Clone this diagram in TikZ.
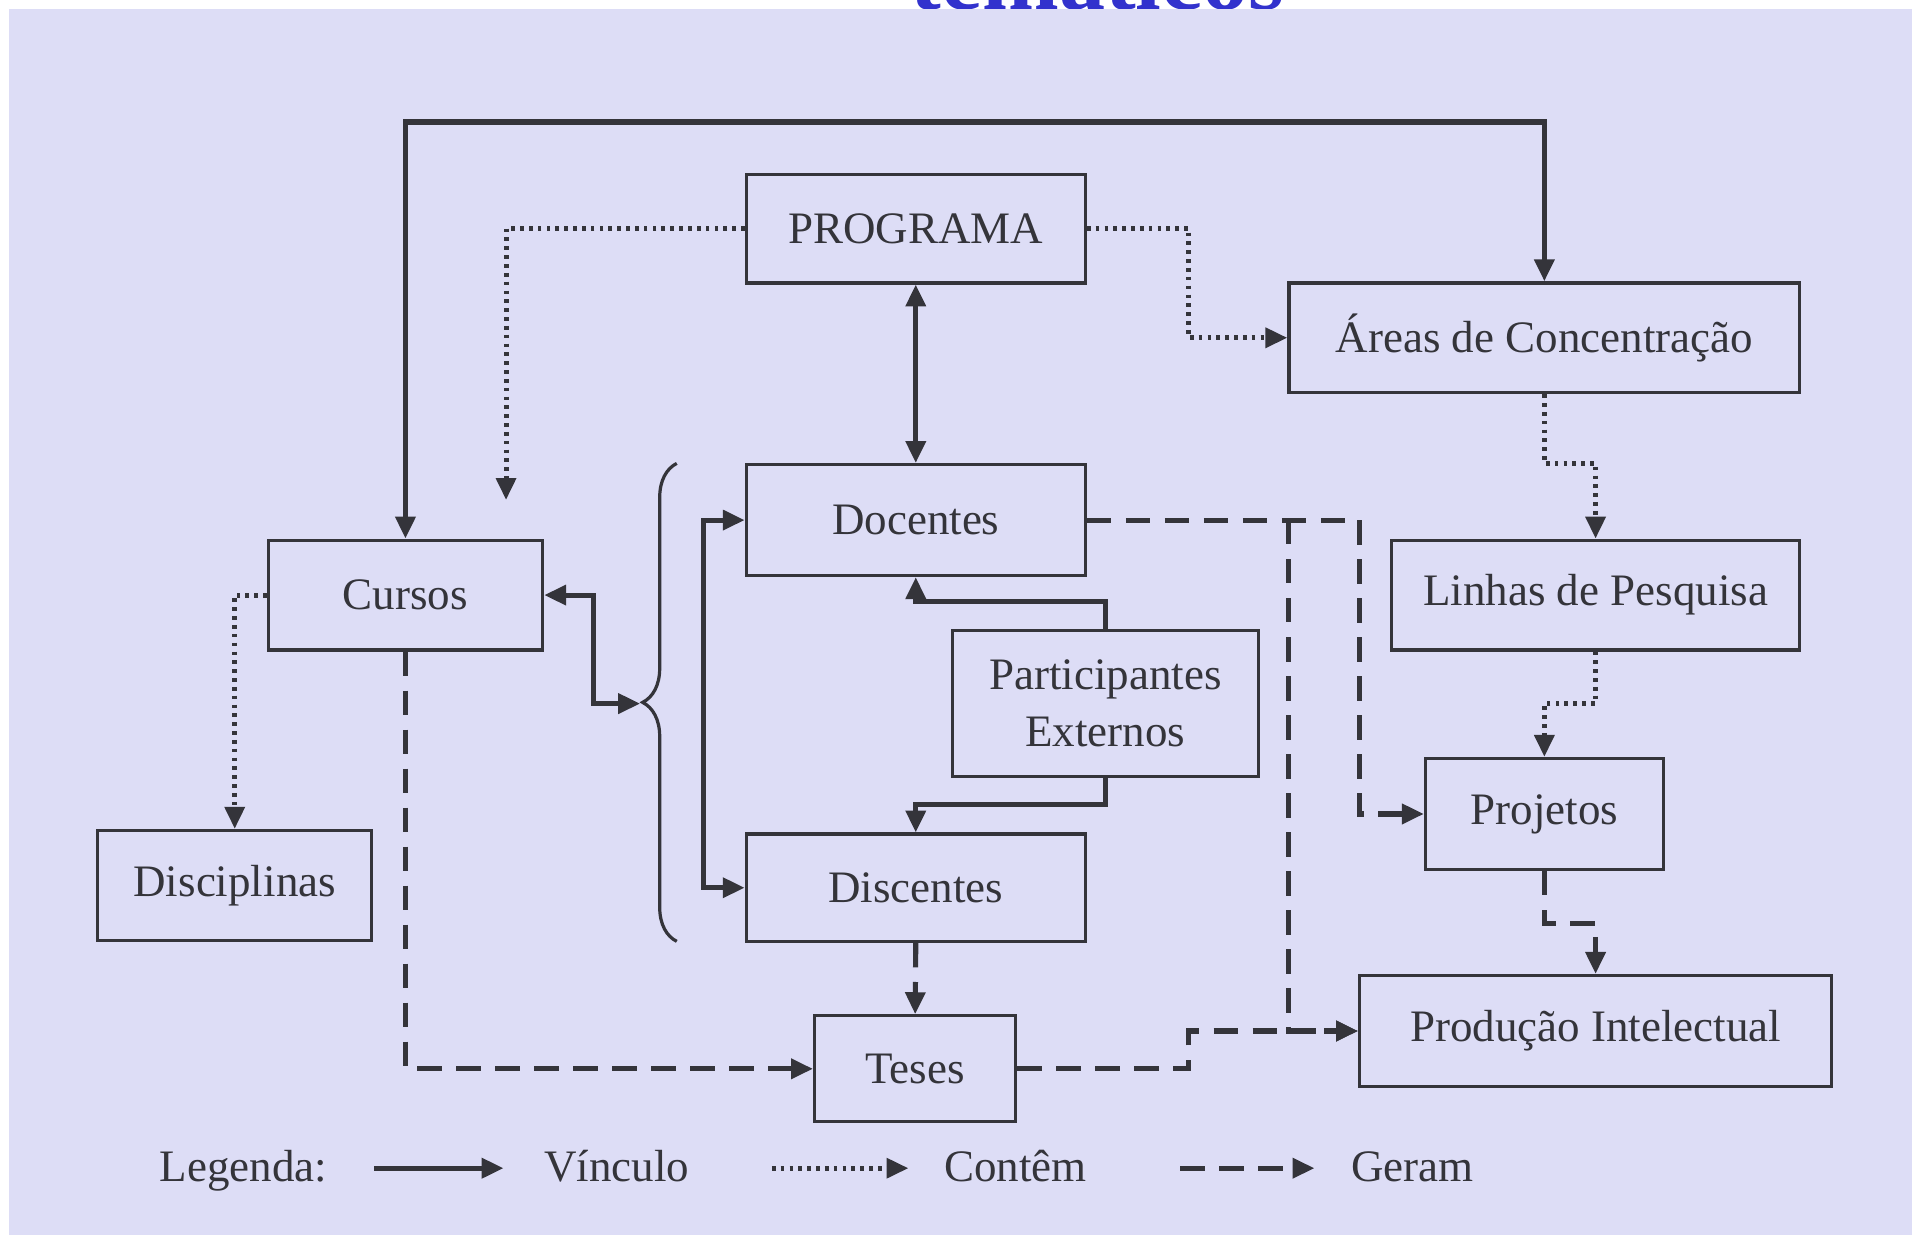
\documentclass[tikz,border=0pt]{standalone}
\usepackage{fontspec}
\setmainfont{Liberation Serif}
\usepackage{tikz}
\usetikzlibrary{arrows.meta,decorations.pathreplacing}

\definecolor{fundo}{RGB}{221,221,246}
\definecolor{traco}{RGB}{52,52,58}
\definecolor{titulo}{RGB}{50,50,205}

\begin{document}
\begin{tikzpicture}[x=0.02cm,y=-0.02cm,>={Triangle[length=0.36cm,width=0.32cm]},
    every node/.style={text=traco,font=\fontsize{21}{26.5}\selectfont},
    caixa/.style={draw=traco,line width=1.5pt,inner sep=0pt,align=center},
    vinculo/.style={draw=traco,line width=2.4pt},
    contem/.style={draw=traco,line width=2.3pt,dash pattern=on 0.06cm off 0.085cm},
    geram/.style={draw=traco,line width=2.4pt,dash pattern=on 0.4cm off 0.24cm}]

    % fundo e titulo cortado
    \useasboundingbox (0,0) rectangle (1568,1012);
    \clip (0,0) rectangle (1568,1012);
    \fill[white] (-10,-10) rectangle (1590,1030);
    \node[anchor=base,text=titulo,font=\fontsize{43}{50}\selectfont\bfseries] (titulo) at (900,7.5) {temáticos};
    \fill[fundo] (7.5,7.5) rectangle (1590,1030);

    % caixas
    \node[caixa,minimum width=5.56cm,minimum height=1.78cm] (programa) at (751,187.5) {PROGRAMA};
    \node[caixa,minimum width=8.38cm,minimum height=1.8cm] (areas) at (1266.5,277) {Áreas de Concentração};
    \node[caixa,minimum width=5.56cm,minimum height=1.82cm] (docentes) at (751,426.5) {Docentes};
    \node[caixa,minimum width=4.5cm,minimum height=1.8cm] (cursos) at (332.5,488) {Cursos};
    \node[caixa,minimum width=6.7cm,minimum height=1.8cm] (linhas) at (1308.5,488) {Linhas de Pesquisa};
    \node[caixa,minimum width=5.02cm,minimum height=2.4cm] (externos) at (906.5,577) {Participantes\\Externos};
    \node[caixa,minimum width=3.9cm,minimum height=1.82cm] (projetos) at (1266.5,667.5) {Projetos};
    \node[caixa,minimum width=4.5cm,minimum height=1.8cm] (disciplinas) at (192.5,726) {Disciplinas};
    \node[caixa,minimum width=5.56cm,minimum height=1.76cm] (discentes) at (751,728) {Discentes};
    \node[caixa,minimum width=3.3cm,minimum height=1.74cm] (teses) at (750.5,876.5) {Teses};
    \node[caixa,minimum width=7.74cm,minimum height=1.82cm] (producao) at (1308.5,845.5) {Produção Intelectual};

    % pontos de passagem
    \coordinate (topo) at (800,100);
    \coordinate (cursosPont) at (415,410);
    \coordinate (progAreas) at (975,232);
    \coordinate (areasLinhas) at (1287,380);
    \coordinate (linhasProj) at (1287,577);
    \coordinate (projProd) at (1287,757);
    \coordinate (cursosJunta) at (487,530);
    \coordinate (chave) at (525,577);
    \coordinate (docDisc) at (577,577);
    \coordinate (extDoc) at (830,493);
    \coordinate (extDisc) at (830,660);
    \coordinate (docProj) at (1115,550);
    \coordinate (docProd) at (1057,426.5);
    \coordinate (tesesProd) at (975,860);

    % vinculos
    \draw[vinculo,<->] (cursos.north) |- (topo) -| (areas.north);
    \draw[vinculo,<->] (programa.south) -- (docentes.north);
    \draw[vinculo,<->] (cursos.east) -| (cursosJunta) |- (chave);
    \draw[vinculo,<->] (docentes.west) -| (docDisc) |- (discentes.west);
    \draw[vinculo,->] (externos.north) |- (extDoc) -| (docentes.south);
    \draw[vinculo,->] (externos.south) |- (extDisc) -| (discentes.north);
    \draw[draw=traco,line width=1.5pt,decorate,decoration={brace,amplitude=0.56cm}] (555,772) -- (555,380);

    % contem
    \draw[contem,->] (programa.west) -| (cursosPont);
    \draw[contem,->] (programa.east) -| (progAreas) |- (areas.west);
    \draw[contem,->] (areas.south) |- (areasLinhas) -| (linhas.north);
    \draw[contem,->] (linhas.south) |- (linhasProj) -| (projetos.north);
    \draw[contem,->] (cursos.west) -| (disciplinas.north);

    % geram
    \draw[geram,->] (cursos.south) |- (teses.west);
    \draw[geram,->] (discentes.south) -- (teses.north);
    \draw[geram,->] (docentes.east) -| (docProj) |- (projetos.west);
    \draw[geram,->] (docProd) |- (producao.west);
    \draw[geram,->] (teses.east) -| (tesesProd) |- (producao.west);
    \draw[geram,->] (projetos.south) |- (projProd) -| (producao.north);

    % legenda
    \node[anchor=base west] (legenda) at (125,969) {Legenda:};
    \coordinate (lvA) at (307,958);
    \coordinate (lvB) at (413,958);
    \coordinate (lcA) at (633,958);
    \coordinate (lcB) at (745,958);
    \coordinate (lgA) at (968,958);
    \coordinate (lgB) at (1078,958);
    \draw[vinculo,->] (lvA) -- (lvB);
    \draw[contem,->] (lcA) -- (lcB);
    \draw[geram,->] (lgA) -- (lgB);
    \node[anchor=base west] (legVinculo) at (440,969) {Vínculo};
    \node[anchor=base west] (legContem) at (768,969) {Contêm};
    \node[anchor=base west] (legGeram) at (1102,969) {Geram};
\end{tikzpicture}
\end{document}
